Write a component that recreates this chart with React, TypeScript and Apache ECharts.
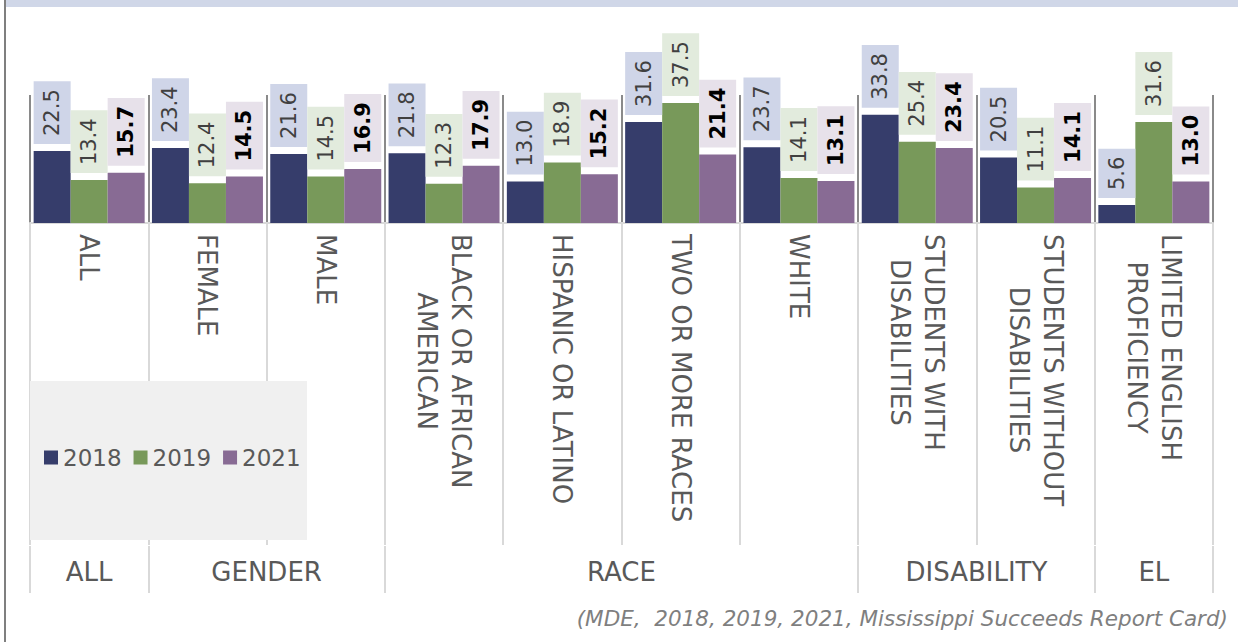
import React, { useEffect, useRef } from 'react';
import * as echarts from 'echarts';

const categories = [
  'ALL',
  'FEMALE',
  'MALE',
  'BLACK OR AFRICAN\nAMERICAN',
  'HISPANIC OR LATINO',
  'TWO OR MORE RACES',
  'WHITE',
  'STUDENTS WITH\nDISABILITIES',
  'STUDENTS WITHOUT\nDISABILITIES',
  'LIMITED ENGLISH\nPROFICIENCY',
];
const seriesNames = ['2018', '2019', '2021'];
const values2018 = [22.5, 23.4, 21.6, 21.8, 13.0, 31.6, 23.7, 33.8, 20.5, 5.6];
const values2019 = [13.4, 12.4, 14.5, 12.3, 18.9, 37.5, 14.1, 25.4, 11.1, 31.6];
const values2021 = [15.7, 14.5, 16.9, 17.9, 15.2, 21.4, 13.1, 23.4, 14.1, 13.0];
const groupNames = ['ALL', 'GENDER', 'RACE', 'DISABILITY', 'EL'];
const groupSizes = [1, 2, 4, 2, 1];
const sourceText = '(MDE,  2018, 2019, 2021, Mississippi Succeeds Report Card)';

const FONT = "'DejaVu Sans', sans-serif";
const barColors = ['#363d6b', '#78995a', '#886b94'];
const labelBg = ['#cfd5e8', '#e2ebdd', '#e7e1ea'];
const labelColor = ['#404040', '#404040', '#000000'];
const labelWeight = ['normal', 'normal', 'bold'];

export default function App() {
  const ref = useRef<HTMLDivElement>(null);
  useEffect(() => {
    if (!ref.current) return;
    const chart = echarts.init(ref.current, undefined, { renderer: 'svg' });

    const groupBounds: number[] = [0];
    groupSizes.forEach((s) => groupBounds.push(groupBounds[groupBounds.length - 1] + s));
    const groupMids = groupSizes.map((s, i) => groupBounds[i] + s / 2);

    const allValues = [values2018, values2019, values2021];

    const option: any = {
      animation: false,
      backgroundColor: '#ffffff',
      grid: { left: 30, right: 25, top: 95, bottom: 419, containLabel: false },
      xAxis: [
        {
          type: 'category',
          data: categories,
          offset: 1,
          axisLine: { show: true, lineStyle: { color: '#d9d9d9', width: 2 } },
          axisTick: { show: true, interval: 0, length: 322, lineStyle: { color: '#d9d9d9', width: 2 } },
          splitLine: { show: true, interval: 0, lineStyle: { color: '#8a8a8a', width: 2 } },
          axisLabel: {
            interval: 0,
            rotate: -90,
            margin: 10,
            formatter: (v: string) => v.split('\n').map((s) => `{c|${s}}`).join('\n'),
            rich: {
              c: { align: 'center', fontSize: 26, lineHeight: 34, fontFamily: FONT, color: '#595959' },
            },
          },
        },
        {
          type: 'value',
          min: 0,
          max: 10,
          position: 'bottom',
          offset: 323,
          axisLine: { show: false },
          splitLine: { show: false },
          axisTick: { show: true, customValues: groupBounds, length: 47, lineStyle: { color: '#d9d9d9', width: 2 } },
          axisLabel: {
            customValues: groupMids,
            formatter: (v: number) => {
              const i = groupMids.findIndex((m) => Math.abs(m - v) < 1e-6);
              return i >= 0 ? groupNames[i] : '';
            },
            margin: 13,
            fontSize: 26,
            fontFamily: FONT,
            color: '#595959',
          },
        },
      ],
      yAxis: { type: 'value', min: 0, max: 40, show: false },
      legend: {
        data: seriesNames,
        left: 44,
        top: 446,
        padding: 0,
        itemWidth: 14,
        itemHeight: 14,
        itemGap: 12,
        icon: 'rect',
        z: 4,
        textStyle: { fontSize: 23, color: '#595959', fontFamily: FONT },
      },
      graphic: [
        { type: 'rect', shape: { x: 5, y: 0, width: 1233, height: 7 }, style: { fill: '#d0d7e8' }, z: 1 },
        { type: 'rect', shape: { x: 4, y: 0, width: 2, height: 642 }, style: { fill: '#7f7f7f' }, z: 1 },
        { type: 'rect', shape: { x: 30, y: 381, width: 277, height: 159 }, style: { fill: '#f0f0f0' }, z: 3 },
        {
          type: 'text',
          x: 1228,
          y: 618,
          z: 1,
          style: {
            text: sourceText,
            fontSize: 21.5,
            fontStyle: 'italic',
            fontFamily: FONT,
            fill: '#7f7f7f',
            align: 'right',
            verticalAlign: 'middle',
          },
        },
      ],
      series: seriesNames.map((name, i) => ({
        name,
        type: 'bar',
        data: allValues[i],
        barWidth: 37,
        barGap: '0%',
        itemStyle: { color: barColors[i] },
        label: {
          show: true,
          position: 'top',
          distance: 7,
          rotate: 90,
          align: 'left',
          verticalAlign: 'middle',
          formatter: (p: any) => Number(p.value).toFixed(1),
          backgroundColor: labelBg[i],
          padding: [7, 8, 7, 8],
          fontSize: 21,
          lineHeight: 23,
          fontFamily: FONT,
          fontWeight: labelWeight[i],
          color: labelColor[i],
        },
      })),
    };

    chart.setOption(option);
    return () => chart.dispose();
  }, []);

  return (
    <div
      ref={ref}
      style={{ position: 'absolute', left: 0, top: 0, width: 1238, height: 642, background: '#fff' }}
    />
  );
}
